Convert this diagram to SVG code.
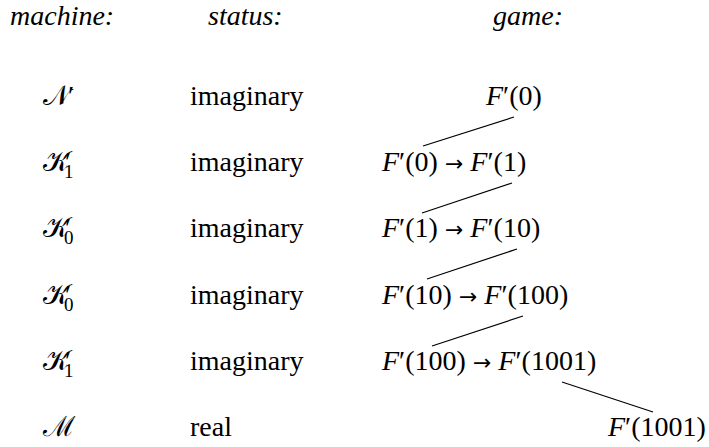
<svg xmlns="http://www.w3.org/2000/svg" width="709" height="447" viewBox="0 0 709 447">
<rect width="709" height="447" fill="#fff"/>
<g font-family="Liberation Serif" font-size="28" fill="#000">
<g id="headers" font-style="italic">
<text x="10" y="25">machine:</text>
<text x="208" y="25">status:</text>
<text x="493" y="25">game:</text>
</g>
<g id="row1">
<text x="43" y="105">𝒩<tspan x="68">′</tspan></text>
<text x="190" y="105">imaginary</text>
</g>
<g id="row2">
<text x="43" y="171">𝒦<tspan x="65">′</tspan><tspan font-size="19" x="64" dy="7">1</tspan></text>
<text x="190" y="171">imaginary</text>
</g>
<g id="row3">
<text x="43" y="237">𝒦<tspan x="65">′</tspan><tspan font-size="19" x="64" dy="7">0</tspan></text>
<text x="190" y="237">imaginary</text>
</g>
<g id="row4">
<text x="43" y="304">𝒦<tspan x="65">′</tspan><tspan font-size="19" x="64" dy="7">0</tspan></text>
<text x="190" y="304">imaginary</text>
</g>
<g id="row5">
<text x="43" y="370">𝒦<tspan x="65">′</tspan><tspan font-size="19" x="64" dy="7">1</tspan></text>
<text x="190" y="370">imaginary</text>
</g>
<g id="row6">
<text x="43" y="436">ℳ</text>
<text x="190" y="436">real</text>
</g>
<g id="game1"><text x="486" y="105"><tspan font-style="italic">F</tspan>′(0)</text></g>
<g id="game2"><text x="382" y="171"><tspan font-style="italic">F</tspan>′(0) <tspan font-family="DejaVu Sans" font-size="22">→</tspan> <tspan font-style="italic">F</tspan>′(1)</text></g>
<g id="game3"><text x="382" y="237"><tspan font-style="italic">F</tspan>′(1) <tspan font-family="DejaVu Sans" font-size="22">→</tspan> <tspan font-style="italic">F</tspan>′(10)</text></g>
<g id="game4"><text x="382" y="304"><tspan font-style="italic">F</tspan>′(10) <tspan font-family="DejaVu Sans" font-size="22">→</tspan> <tspan font-style="italic">F</tspan>′(100)</text></g>
<g id="game5"><text x="382" y="370"><tspan font-style="italic">F</tspan>′(100) <tspan font-family="DejaVu Sans" font-size="22">→</tspan> <tspan font-style="italic">F</tspan>′(1001)</text></g>
<g id="game6"><text x="608" y="436"><tspan font-style="italic">F</tspan>′(1001)</text></g>
</g>
<g id="connectors" stroke="#000" stroke-width="1.2">
<line x1="423" y1="146" x2="514" y2="117"/>
<line x1="422" y1="213" x2="512" y2="183"/>
<line x1="427" y1="279" x2="517" y2="249"/>
<line x1="432" y1="346" x2="523" y2="316"/>
<line x1="562" y1="382" x2="653" y2="412"/>
</g>
</svg>
